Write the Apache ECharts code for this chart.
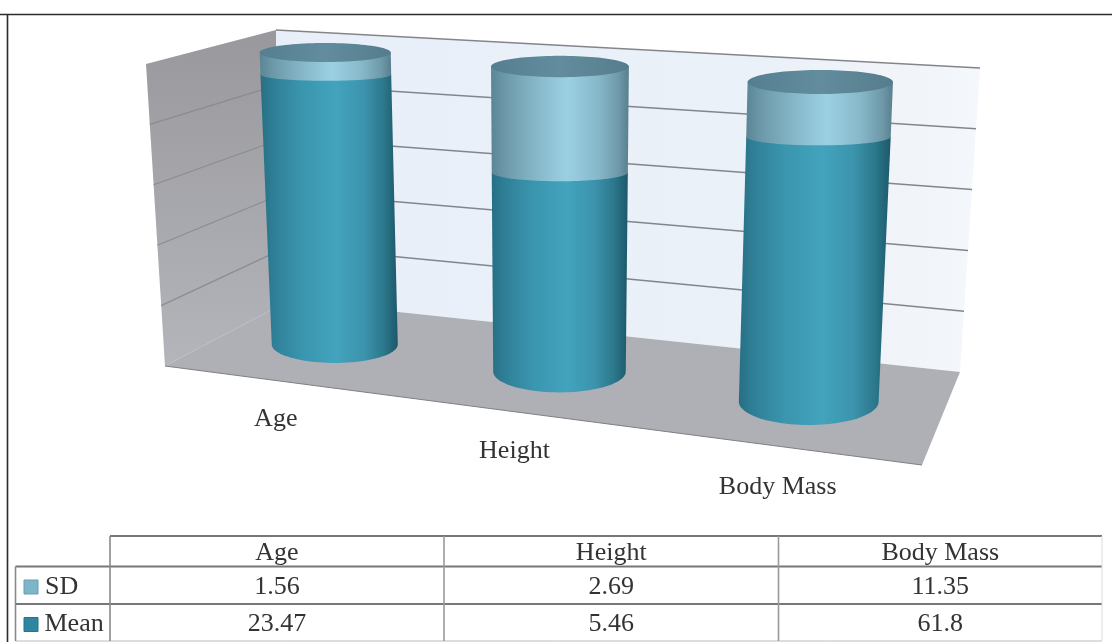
<!DOCTYPE html>
<html>
<head>
<meta charset="utf-8">
<style>html,body{margin:0;padding:0;background:#fff}#chart{width:1112px;height:642px}</style>
<script src="https://cdn.jsdelivr.net/npm/echarts@6/dist/echarts.min.js"></script>
</head>
<body>
<div id="chart"></div>
<script>
// Anthropometric summary: 100% stacked cylinders with a data table underneath.
const categories = ['Age', 'Height', 'Body Mass'];
const sdValues = [1.56, 2.69, 11.35];
const meanValues = [23.47, 5.46, 61.8];
const sdLabels = ['1.56', '2.69', '11.35'];
const meanLabels = ['23.47', '5.46', '61.8'];
const percentTicks = [0, 20, 40, 60, 80, 100];

const FONT = '"Liberation Serif", "Times New Roman", serif';
const TEXT = '#333333';

// Plot rectangle of the hidden cartesian grid; the oblique view is derived from it.
const GRID = { left: 200, top: 60, width: 760, height: 380 };

// Oblique view of the plane through the cylinder fronts.
const FRONT_PLANE = { bl: [230.5, 349.3], br: [943.8, 442.7], tr: [961.4, 103.1], tl: [216.3, 55] };
const RECEDE = 0.856;
// Chart box walls.
const BACK_WALL = { bl: [277, 299], br: [960, 372], tr: [980, 68], tl: [276, 30] };
const SIDE_WALL = { bl: [165, 366], br: [277, 307], tr: [276, 30], tl: [146, 64] };
const FLOOR_FRONT_RIGHT = [922, 465];

const lerp = (a, b, t) => a + (b - a) * t;
const toU = px => (px - GRID.left) / GRID.width;
const toV = py => (GRID.top + GRID.height - py) / GRID.height;
const depth = u => (1 - u) + u * RECEDE;

function onQuad(q, u, v) {
  const bx = lerp(q.bl[0], q.br[0], u), by = lerp(q.bl[1], q.br[1], u);
  const tx = lerp(q.tl[0], q.tr[0], u), ty = lerp(q.tl[1], q.tr[1], u);
  return [lerp(bx, tx, v), lerp(by, ty, v)];
}
function project(u, v) {
  return onQuad(FRONT_PLANE, u * RECEDE / depth(u), v);
}
function radii(u, v) {
  const rx = 61.5 / depth(u) * (1 + 0.04 * v);
  const tilt = lerp(0.315 + 0.06 * (u - 0.5), 0.155 + 0.03 * (u - 0.5), v);
  return [rx, rx * tilt];
}
// Half ellipse arc, left to right through the front.
function frontArc(cx, cy, rx, ry) {
  const pts = [];
  for (let i = 0; i <= 48; i++) {
    const a = Math.PI - Math.PI * i / 48;
    pts.push([cx + rx * Math.cos(a), cy + ry * Math.sin(a)]);
  }
  return pts;
}
function ring(cx, cy, rx, ry) {
  const pts = [];
  for (let i = 0; i < 96; i++) {
    const a = 2 * Math.PI * i / 96;
    pts.push([cx + rx * Math.cos(a), cy + ry * Math.sin(a)]);
  }
  return pts;
}
const INNER_SAG = 0.62;

const sideGradient = stops => new echarts.graphic.LinearGradient(0, 0, 1, 0,
  stops.map(s => ({ offset: s[0], color: s[1] })));

const MEAN_FILL = sideGradient([[0, '#276f84'], [0.1, '#2f8097'], [0.3, '#3a95ae'], [0.55, '#43a3bd'],
  [0.75, '#3c94ad'], [0.9, '#2c778b'], [1, '#1c586a']]);
const SD_FILL = sideGradient([[0, '#5b8595'], [0.12, '#6f9cad'], [0.35, '#88bacb'], [0.55, '#9bd0e3'],
  [0.78, '#86b8c9'], [0.93, '#6d98a8'], [1, '#587f8e']]);
const CAP_FILL = sideGradient([[0, '#557f90'], [0.5, '#628d9e'], [1, '#557c8c']]);

function segmentShape(u, p0, p1) {
  const [x0, f0] = project(u, p0), [x1, f1] = project(u, p1);
  const [rx0, ry0] = radii(u, p0), [rx1, ry1] = radii(u, p1);
  const sag0 = p0 === 0 ? ry0 : ry0 * INNER_SAG;
  const sag1 = p1 >= 1 ? ry1 : ry1 * INNER_SAG;
  const pts = frontArc(x0, f0 - sag0, rx0, sag0);
  pts.push([x1 + rx1, f1 - sag1], [x1 - rx1, f1 - sag1]);
  return pts;
}

function renderSegment(fill, withCap) {
  return function (params, api) {
    const c0 = api.coord([api.value(0), api.value(1)]);
    const c1 = api.coord([api.value(0), api.value(2)]);
    const u = toU(c0[0]), p0 = toV(c0[1]), p1 = toV(c1[1]);
    const children = [{
      type: 'polygon',
      shape: { points: segmentShape(u, p0, p1) },
      style: { fill: fill }
    }];
    if (withCap) {
      const [x, f] = project(u, p1);
      const [rx, ry] = radii(u, p1);
      children.push({
        type: 'polygon',
        shape: { points: ring(x, f - ry, rx, ry) },
        style: { fill: CAP_FILL }
      });
    }
    return { type: 'group', children: children };
  };
}

function renderWalls() {
  const poly = (points, fill) => ({
    type: 'polygon',
    shape: { points: points },
    style: { fill: fill }
  });
  const edge = (a, b, color, w) => ({
    type: 'line', shape: { x1: a[0], y1: a[1], x2: b[0], y2: b[1] },
    style: { stroke: color, lineWidth: w }
  });
  const B = BACK_WALL, S = SIDE_WALL;
  return {
    type: 'group',
    children: [
      poly([B.tl, B.tr, B.br, B.bl], new echarts.graphic.LinearGradient(0, 0, 1, 0, [
        { offset: 0, color: '#e8eff8' }, { offset: 0.7, color: '#ebf1f8' }, { offset: 1, color: '#f4f7fb' }])),
      poly([S.tl, S.tr, S.br, S.bl], new echarts.graphic.LinearGradient(0, 0, 0, 1, [
        { offset: 0, color: '#98989d' }, { offset: 1, color: '#b4b5ba' }])),
      poly([S.bl, FLOOR_FRONT_RIGHT, B.br, B.bl, S.br], '#aeb0b5'),
      edge(S.bl, FLOOR_FRONT_RIGHT, '#7f8084', 1.2)
    ]
  };
}

function renderWallLine(params, api) {
  const v = toV(api.coord([0, api.value(0)])[1]);
  const a = onQuad(BACK_WALL, 0, v), b = onQuad(BACK_WALL, 1, v);
  const c = onQuad(SIDE_WALL, 0, v), d = onQuad(SIDE_WALL, 1, v);
  const children = [];
  if (v > 0) {
    children.push({
      type: 'line', shape: { x1: a[0], y1: a[1], x2: b[0], y2: b[1] },
      style: { stroke: '#84858b', lineWidth: 1.5 }
    });
  }
  if (v > 0 && v < 1) {
    children.push({
      type: 'line', shape: { x1: c[0], y1: c[1], x2: d[0], y2: d[1] },
      style: { stroke: '#8b8c91', lineWidth: 1.2 }
    });
  }
  return { type: 'group', children: children };
}

function renderAxisLabel(params, api) {
  const c = api.coord([api.value(0), 0]);
  const u = toU(c[0]);
  const f = project(u, 0);
  return {
    type: 'text',
    x: f[0] - 66 + 42 * u,
    y: f[1] + 55 + 8 * u,
    style: {
      text: categories[api.value(0)], font: '26px ' + FONT, fill: TEXT,
      textAlign: 'center', textVerticalAlign: 'middle'
    }
  };
}

// Data table beneath the plot.
const TABLE = { x0: 15.5, x1: 110, right: 1102, rowY: [536, 566.5, 604, 641], colX: [110, 444, 778.5, 1102] };

function tableGraphics() {
  const out = [];
  const line = (x1, y1, x2, y2, color, w) => out.push({
    type: 'line', shape: { x1, y1, x2, y2 }, style: { stroke: color, lineWidth: w }, silent: true
  });
  const text = (s, x, y, align) => out.push({
    type: 'text', x, y, silent: true,
    style: { text: s, font: '26px ' + FONT, fill: TEXT, textAlign: align, textVerticalAlign: 'middle' }
  });
  const swatch = (y, fill, stroke) => out.push({
    type: 'rect', shape: { x: 24, y, width: 14, height: 14 }, silent: true,
    style: { fill, stroke, lineWidth: 1 }
  });
  const r = TABLE.rowY, c = TABLE.colX;
  line(0, 14.5, 1112, 14.5, '#2c2c2c', 1.6);
  line(7.5, 14.5, 7.5, 642, '#2c2c2c', 1.6);
  line(c[0], r[0], TABLE.right, r[0], '#777', 1.8);
  line(TABLE.x0, r[1], TABLE.right, r[1], '#777', 1.8);
  line(TABLE.x0, r[2], TABLE.right, r[2], '#777', 1.8);
  line(TABLE.x0, r[3], TABLE.right, r[3], '#bbb', 1);
  line(TABLE.x0, r[1], TABLE.x0, r[3], '#8a8a8a', 1.6);
  line(c[0], r[0], c[0], r[3], '#8a8a8a', 1.6);
  line(c[1], r[0], c[1], r[3], '#9a9a9a', 1.6);
  line(c[2], r[0], c[2], r[3], '#9a9a9a', 1.6);
  line(c[3], r[0], c[3], r[3], '#dcdcdc', 1);
  categories.forEach((name, i) => {
    const cx = (c[i] + c[i + 1]) / 2;
    text(name, cx, (r[0] + r[1]) / 2 + 1.5, 'center');
    text(sdLabels[i], cx, (r[1] + r[2]) / 2 + 1.5, 'center');
    text(meanLabels[i], cx, (r[2] + r[3]) / 2 + 2, 'center');
  });
  swatch(580, '#7db6ca', '#6c9cae');
  swatch(617.5, '#2f86a0', '#2a7388');
  text('SD', 45, 587.5, 'left');
  text('Mean', 44.5, 624.5, 'left');
  return out;
}

const meanRows = categories.map((_, i) => [i, 0, 100 * meanValues[i] / (meanValues[i] + sdValues[i])]);
const sdRows = categories.map((_, i) => [i, 100 * meanValues[i] / (meanValues[i] + sdValues[i]), 100]);

const chart = echarts.init(document.getElementById('chart'));
chart.setOption({
  animation: false,
  backgroundColor: '#ffffff',
  grid: GRID,
  xAxis: { type: 'category', data: categories, show: false },
  yAxis: { type: 'value', min: 0, max: 100, interval: 20, show: false },
  graphic: { elements: tableGraphics() },
  series: [
    { type: 'custom', name: 'Walls', data: [[0]], renderItem: renderWalls, silent: true, clip: false, z: 1 },
    { type: 'custom', name: 'Gridlines', data: percentTicks.map(t => [t]), renderItem: renderWallLine,
      encode: { y: 0 }, silent: true, clip: false, z: 2 },
    { type: 'custom', name: 'Mean', data: meanRows, renderItem: renderSegment(MEAN_FILL, false),
      encode: { x: 0, y: [1, 2] }, clip: false, z: 3 },
    { type: 'custom', name: 'SD', data: sdRows, renderItem: renderSegment(SD_FILL, true),
      encode: { x: 0, y: [1, 2] }, clip: false, z: 4 },
    { type: 'custom', name: 'Category labels', data: categories.map((_, i) => [i]), renderItem: renderAxisLabel,
      encode: { x: 0 }, silent: true, clip: false, z: 5 }
  ]
});
</script>
</body>
</html>
